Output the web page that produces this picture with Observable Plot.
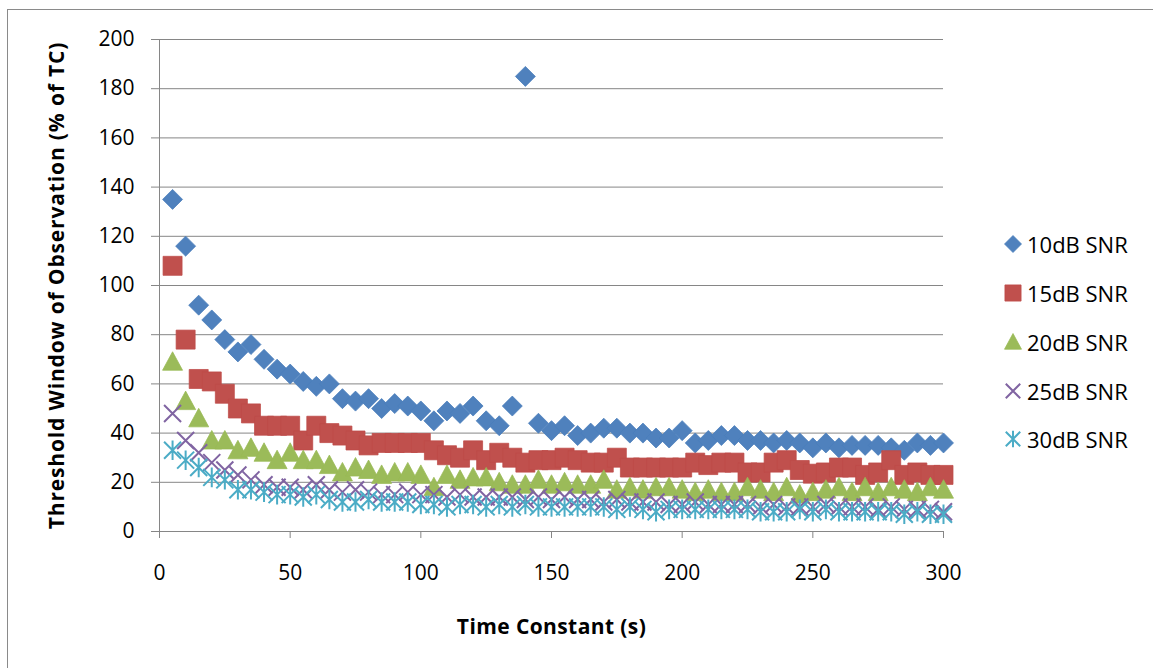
<!DOCTYPE html>
<html>
<head>
<meta charset="utf-8">
<script src="https://cdn.jsdelivr.net/npm/d3@7"></script>
<script src="https://cdn.jsdelivr.net/npm/@observablehq/plot@0.6"></script>
<style>
  html, body { margin: 0; padding: 0; background: #fff; }
  #wrap { position: relative; width: 1153px; height: 668px; overflow: hidden; font-family: "Open Sans", Lato, sans-serif; }
  #border { position: absolute; left: 7px; top: 9px; right: -2px; bottom: -2px; border-top: 1px solid #8a8a8a; border-left: 1px solid #8a8a8a; }
  #chart { position: absolute; left: 0; top: 0; }
  #chart svg text { font-family: "Open Sans", Lato, sans-serif; }
  #chart g[aria-label="x-axis label"] text { font-weight: bold; font-size: 21px; letter-spacing: 0.4px; }
  #chart g[aria-label="y-axis label"] text { font-weight: bold; font-size: 21px; letter-spacing: 0.85px; }
  #legend { position: absolute; left: 1002px; top: 220px; }
  .row { display: flex; align-items: center; height: 48.75px; }
  .row svg { width: 22px; height: 22px; margin-right: 3px; }
  .row span { font-size: 22px; color: #000; line-height: 22px; }
</style>
</head>
<body>
<div id="wrap">
  <div id="border"></div>
  <div id="chart"></div>
  <div id="legend"></div>
</div>
<script>
const timeConstants = [5,10,15,20,25,30,35,40,45,50,55,60,65,70,75,80,85,90,95,100,
  105,110,115,120,125,130,135,140,145,150,155,160,165,170,175,180,185,190,195,200,
  205,210,215,220,225,230,235,240,245,250,255,260,265,270,275,280,285,290,295,300];

const snr10 = [135,116,92,86,78,73,76,70,66,64,61,59,60,54,53,54,50,52,51,49,
  45,49,48,51,45,43,51,185,44,41,43,39,40,42,42,40,40,38,38,41,
  36,37,39,39,37,37,36,37,36,34,36,34,35,35,35,34,33,36,35,36];
const snr15 = [108,78,62,61,56,50,48,43,43,43,37,43,40,39,37,35,36,36,36,36,
  33,31,30,33,29,32,30,28,29,29,30,29,28,28,30,26,26,26,26,26,
  28,27,28,28,24,24,28,29,25,23.5,24,26,26,23,24,29,23,24,23,23];
const snr20 = [69,53,46,37,37,33,34,32,29,32,29,29,27,24,26,25,23,24,24,23,
  18,23,21,22,22,20,19,19,21,19,20,19,19,21,17,18,17,18,18,17,
  16,17,16,16,18,17,16,18,15,16,17,18,16,18,16,18,17,16,18,17];
const snr25 = [48,37,32,28,25,23,21,19,18,18,17,19,17,16,17,16,15,15,16,15,
  15,14,15,14,14,14,14,13,14,13,14,13,13,12,13,12,12,12,11,11,
  12,11,11,11,11,10,11,10,10,10,11,10,10,10,9,10,9,9,9,8];
const snr30 = [33,29,26,22,21,17,17,16,15,15,14,15,13,12,12,13,12,12,12,11,
  11,10,11,11,10,11,10,11,10,10,10,10,10,10,9,10,9,8,9,9,
  9,9,9,9,9,8,8,8,9,8,9,8,8,8,8,8,7,8,7,7];

const seriesNames = ["10dB SNR","15dB SNR","20dB SNR","25dB SNR","30dB SNR"];
const seriesValues = [snr10, snr15, snr20, snr25, snr30];
const fillColors = ["#4F81BD","#C0504D","#9BBB59","#8064A2","#4BACC6"];
const strokeColors = ["#4A7EBB","#BE4B48","#98B954","#7D60A0","#46AAC5"];

const xTicks = [0,50,100,150,200,250,300];
const yTicks = [0,20,40,60,80,100,120,140,160,180,200];
const xTitle = "Time Constant (s)";
const yTitle = "Threshold Window of Observation (% of TC)";

// Excel-like marker shapes
const half = s => Math.sqrt(s / Math.PI);
const symDiamond = { draw(ctx, s) { const h = half(s); ctx.moveTo(0,-h); ctx.lineTo(h,0); ctx.lineTo(0,h); ctx.lineTo(-h,0); ctx.closePath(); } };
const symSquare = { draw(ctx, s) { const h = half(s); ctx.rect(-h,-h,2*h,2*h); } };
const symTriangle = { draw(ctx, s) { const h = half(s); ctx.moveTo(0,-h); ctx.lineTo(h,h*0.85); ctx.lineTo(-h,h*0.85); ctx.closePath(); } };
const symTimes = { draw(ctx, s) { const h = half(s); ctx.moveTo(-h,-h); ctx.lineTo(h,h); ctx.moveTo(-h,h); ctx.lineTo(h,-h); } };
const symStar = { draw(ctx, s) { const h = half(s); ctx.moveTo(-h,-h); ctx.lineTo(h,h); ctx.moveTo(-h,h); ctx.lineTo(h,-h); ctx.moveTo(0,-h*1.15); ctx.lineTo(0,h*1.15); } };
const symbols = [symDiamond, symSquare, symTriangle, symTimes, symStar];
const radii = [10, 9.5, 10, 8.5, 8.5];
const filled = [true, true, true, false, false];

const rows = seriesNames.map((name, i) => timeConstants.map((t, j) => ({x: t, y: seriesValues[i][j], s: name})));

const dotMarks = rows.map((data, i) => Plot.dot(data, {
  x: "x", y: "y",
  symbol: symbols[i],
  r: radii[i],
  fill: filled[i] ? fillColors[i] : "none",
  stroke: filled[i] ? strokeColors[i] : fillColors[i],
  strokeWidth: filled[i] ? 0.75 : 2
}));

const chart = Plot.plot({
  width: 1153,
  height: 668,
  marginLeft: 159,
  marginRight: 210,
  marginTop: 39,
  marginBottom: 137,
  style: { background: "transparent", fontSize: "21px", fontFamily: "Open Sans" },
  x: { domain: [0, 300] },
  y: { domain: [0, 200] },
  marks: [
    Plot.gridY(yTicks, { stroke: "#868686", strokeOpacity: 1, strokeWidth: 1 }),
    Plot.ruleX([0], { stroke: "#868686", strokeWidth: 1 }),
    Plot.axisY(yTicks, {
      anchor: "left", tickSize: 8, tickPadding: 17, stroke: "#868686", fill: "#000",
      fontSize: 21, tickFormat: d => String(d),
      label: yTitle, labelArrow: "none", labelAnchor: "center", labelOffset: 110
    }),
    Plot.axisX(xTicks, {
      anchor: "bottom", tickSize: 7, tickPadding: 27, stroke: "#868686", fill: "#000",
      fontSize: 21, tickFormat: d => String(d),
      label: xTitle, labelArrow: "none", labelAnchor: "center", labelOffset: 102
    }),
    ...dotMarks
  ]
});
document.getElementById("chart").appendChild(chart);
// make sure no arrows are appended to the axis titles
d3.select(chart).select('g[aria-label="x-axis label"] text').text(xTitle);
d3.select(chart).select('g[aria-label="y-axis label"] text').text(yTitle);

// Legend
const legend = d3.select("#legend");
seriesNames.forEach((name, i) => {
  const row = legend.append("div").attr("class", "row");
  const svg = row.append("svg").attr("viewBox", "-11 -11 22 22");
  const sizeLegend = Math.PI * Math.pow(radii[i] * 0.85, 2);
  svg.append("path")
    .attr("d", d3.symbol(symbols[i], sizeLegend)())
    .attr("fill", filled[i] ? fillColors[i] : "none")
    .attr("stroke", filled[i] ? strokeColors[i] : fillColors[i])
    .attr("stroke-width", filled[i] ? 0.75 : 2);
  row.append("span").text(name);
});
</script>
</body>
</html>
